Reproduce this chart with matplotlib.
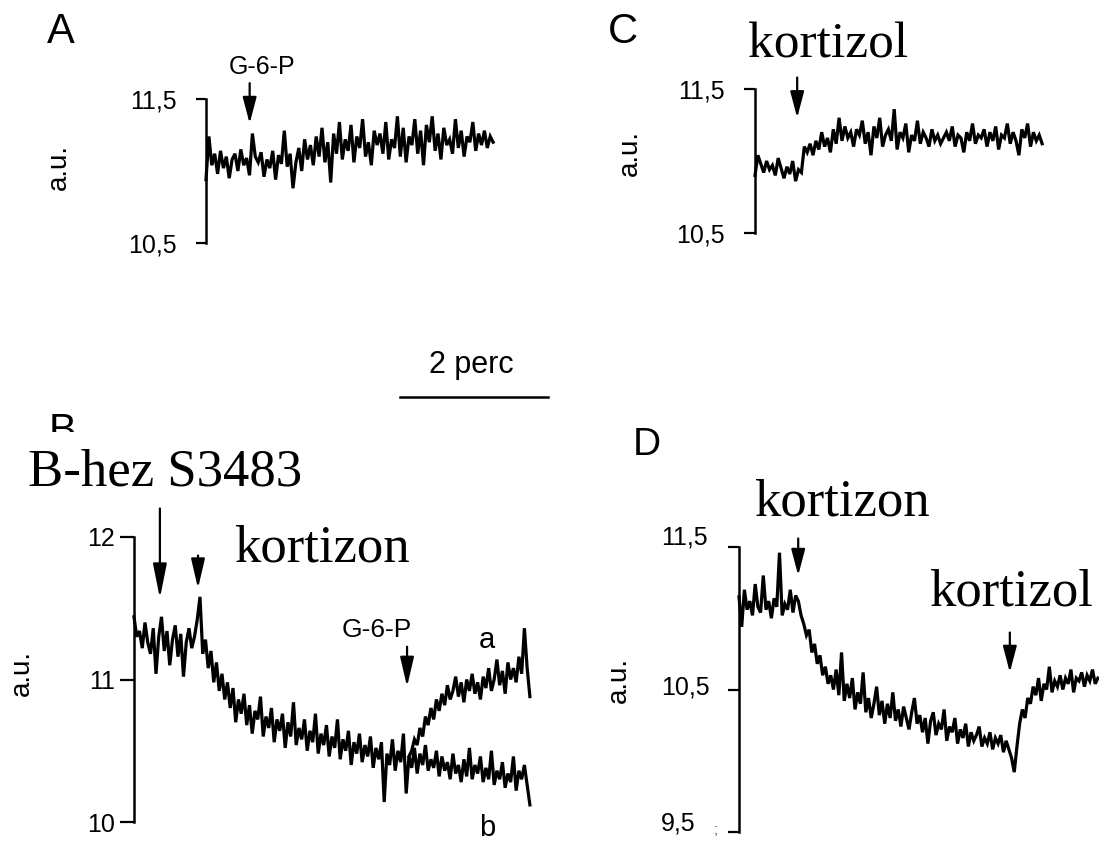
import matplotlib.pyplot as plt
import numpy as np
from matplotlib.lines import Line2D
from matplotlib.patches import Rectangle

plt.rcParams['font.family'] = ['Liberation Sans', 'DejaVu Sans']

# recordings (a.u.), one sample list per panel
trace_A = [10.94, 11.24, 11.04, 11.12, 10.98, 11.14, 11.02, 11.10, 10.95, 11.08,
           11.12, 11.00, 11.15, 11.04, 11.09, 10.97, 11.26, 11.10, 11.06, 11.13,
           10.96, 11.08, 11.02, 11.14, 10.94, 11.11, 11.05, 11.28, 11.03, 11.12,
           10.88, 11.06, 11.16, 11.00, 11.22, 11.08, 11.18, 11.04, 11.24, 11.10,
           11.30, 11.06, 11.20, 10.92, 11.26, 11.12, 11.34, 11.08, 11.22, 11.14,
           11.32, 11.06, 11.24, 11.16, 11.36, 11.10, 11.20, 11.04, 11.28, 11.18,
           11.26, 11.12, 11.34, 11.08, 11.22, 11.16, 11.38, 11.10, 11.30, 11.06,
           11.24, 11.18, 11.36, 11.12, 11.28, 11.04, 11.32, 11.20, 11.38, 11.14,
           11.26, 11.08, 11.30, 11.18, 11.22, 11.12, 11.36, 11.16, 11.28, 11.10,
           11.24, 11.20, 11.34, 11.14, 11.26, 11.18, 11.28, 11.16, 11.24, 11.20]

trace_C = [10.90, 11.04, 10.98, 10.92, 11.00, 10.94, 10.97, 10.90, 11.02, 10.95,
           10.88, 10.96, 10.91, 11.00, 10.86, 10.94, 10.92, 11.10, 11.06, 11.12,
           11.04, 11.14, 11.08, 11.20, 11.10, 11.16, 11.06, 11.22, 11.12, 11.30,
           11.14, 11.24, 11.16, 11.20, 11.10, 11.22, 11.18, 11.28, 11.12, 11.20,
           11.04, 11.24, 11.16, 11.30, 11.10, 11.18, 11.22, 11.14, 11.36, 11.08,
           11.20, 11.16, 11.26, 11.06, 11.18, 11.14, 11.28, 11.12, 11.20, 11.16,
           11.10, 11.22, 11.14, 11.18, 11.12, 11.16, 11.20, 11.14, 11.24, 11.10,
           11.18, 11.16, 11.06, 11.20, 11.14, 11.26, 11.12, 11.18, 11.16, 11.22,
           11.10, 11.20, 11.14, 11.24, 11.08, 11.18, 11.16, 11.26, 11.12, 11.20,
           11.14, 11.04, 11.22, 11.16, 11.26, 11.10, 11.20, 11.14, 11.18, 11.12]

trace_B = [11.44, 11.30, 11.34, 11.22, 11.40, 11.26, 11.18, 11.36, 11.04, 11.30,
           11.44, 11.20, 11.34, 11.10, 11.28, 11.38, 11.16, 11.32, 11.02, 11.26,
           11.36, 11.22, 11.30, 11.42, 11.58, 11.18, 11.28, 11.08, 11.20, 10.98,
           11.12, 10.92, 11.04, 10.86, 10.98, 10.80, 10.94, 10.70, 10.86, 10.76,
           10.90, 10.68, 10.82, 10.62, 10.78, 10.72, 10.88, 10.60, 10.74, 10.66,
           10.80, 10.56, 10.72, 10.64, 10.76, 10.52, 10.70, 10.60, 10.84, 10.54,
           10.66, 10.58, 10.72, 10.50, 10.64, 10.56, 10.76, 10.48, 10.62, 10.54,
           10.68, 10.46, 10.60, 10.52, 10.72, 10.44, 10.58, 10.50, 10.64, 10.40,
           10.56, 10.48, 10.62, 10.42, 10.54, 10.46, 10.60, 10.38, 10.52, 10.44,
           10.56, 10.14, 10.48, 10.40, 10.58, 10.36, 10.50, 10.42, 10.62, 10.20,
           10.46, 10.38, 10.52, 10.34, 10.48, 10.40, 10.54, 10.36, 10.44, 10.38,
           10.50, 10.32, 10.46, 10.36, 10.42, 10.30, 10.48, 10.34, 10.40, 10.28,
           10.44, 10.32, 10.52, 10.30, 10.40, 10.34, 10.46, 10.28, 10.38, 10.30,
           10.50, 10.26, 10.36, 10.30, 10.42, 10.24, 10.34, 10.28, 10.46, 10.22,
           10.36, 10.30, 10.40, 10.26, 10.12]
B_a_start = 100   # sample where trace "a" branches off (G-6-P added)
trace_B_a = [10.46, 10.50, 10.58, 10.54, 10.66, 10.60, 10.74, 10.68, 10.80, 10.72,
             10.86, 10.78, 10.90, 10.82, 10.96, 10.86, 10.92, 11.02, 10.88, 10.98,
             10.84, 11.00, 10.92, 11.04, 10.90, 10.98, 10.86, 11.02, 10.94, 11.08,
             10.92, 11.00, 11.14, 10.96, 11.06, 10.90, 11.12, 11.00, 11.08, 10.98,
             11.16, 11.04, 11.36, 11.08, 10.88]

trace_D = [11.15, 10.94, 11.20, 11.06, 11.12, 11.02, 11.24, 11.08, 11.04, 11.30,
           11.06, 11.12, 11.00, 11.14, 11.08, 11.46, 11.02, 11.10, 11.06, 11.20,
           11.04, 11.16, 11.12, 11.02, 10.96, 10.88, 10.92, 10.76, 10.82, 10.68,
           10.74, 10.60, 10.66, 10.54, 10.60, 10.50, 10.64, 10.46, 10.76, 10.42,
           10.54, 10.44, 10.58, 10.36, 10.48, 10.40, 10.62, 10.34, 10.44, 10.30,
           10.40, 10.52, 10.32, 10.42, 10.26, 10.40, 10.30, 10.48, 10.28, 10.36,
           10.24, 10.38, 10.30, 10.22, 10.34, 10.44, 10.26, 10.32, 10.20, 10.30,
           10.12, 10.28, 10.34, 10.18, 10.26, 10.22, 10.36, 10.14, 10.24, 10.20,
           10.30, 10.12, 10.22, 10.16, 10.26, 10.10, 10.20, 10.14, 10.18, 10.24,
           10.10, 10.16, 10.12, 10.20, 10.08, 10.16, 10.12, 10.18, 10.06, 10.14,
           10.08, 10.02, 9.92, 10.10, 10.26, 10.36, 10.30, 10.44, 10.40, 10.52,
           10.46, 10.58, 10.42, 10.54, 10.50, 10.66, 10.48, 10.56, 10.52, 10.60,
           10.50, 10.58, 10.54, 10.64, 10.48, 10.58, 10.56, 10.62, 10.52, 10.60,
           10.56, 10.64, 10.54, 10.58]

# recording length (min) of each trace
dur_A, dur_C, dur_B, dur_D = 3.88, 3.88, 5.35, 4.85

W, H = 1099, 841
PX_PER_MIN = 74.0

fig = plt.figure(figsize=(W / 100, H / 100), dpi=100)


def fig_rect(left, top, right, bottom):
    return [left / W, 1 - bottom / H, (right - left) / W, (bottom - top) / H]


def ftext(x, y, s, **kw):
    return fig.text(x / W, 1 - y / H, s, **kw)


def make_panel(left, top, bottom, xmax, ylim, ticks, labels, ticklen, pad):
    right = left + xmax * PX_PER_MIN
    ax = fig.add_axes(fig_rect(left, top, right, bottom))
    ax.set_xlim(0, xmax)
    ax.set_ylim(*ylim)
    for s in ['top', 'right', 'bottom']:
        ax.spines[s].set_visible(False)
    ax.spines['left'].set_linewidth(1.8)
    ax.set_xticks([])
    ax.set_yticks(ticks)
    ax.set_yticklabels(labels, fontsize=18)
    ax.tick_params(axis='y', direction='out', length=ticklen, width=1.6, pad=pad)
    ax.patch.set_alpha(0)
    return ax


def arrow(ax, t, tip, tail, hl=1.6):
    ax.annotate('', xy=(t, tip), xytext=(t, tail), annotation_clip=False,
                arrowprops=dict(arrowstyle='-|>,head_length=%.2f,head_width=0.42' % hl,
                                mutation_scale=10, lw=1.6, color='black',
                                shrinkA=0, shrinkB=0))


def trace(ax, vals, dur, start=0, n_total=None):
    n = n_total if n_total else len(vals)
    t = np.arange(start, start + len(vals)) * dur / (n - 1)
    ax.plot(t, vals, color='black', lw=2.3, clip_on=False, solid_joinstyle='miter')


# A
axA = make_panel(206, 99, 243, 4.0, (10.5, 11.5), [10.5, 11.5], ['10,5', '11,5'], 7, 14)
trace(axA, trace_A, dur_A)
arrow(axA, 0.59, 11.33, 11.61)
ftext(61, 32, 'A', fontsize=30, ha='center', va='center')
ftext(262, 67, 'G-6-P', fontsize=18, ha='center', va='center')
ftext(59, 167, 'a.u.', fontsize=20, rotation=90, ha='center', va='center')

# C
axC = make_panel(755, 89, 233, 4.0, (10.5, 11.5), [10.5, 11.5], ['10,5', '11,5'], 8, 14)
trace(axC, trace_C, dur_C)
arrow(axC, 0.57, 11.30, 11.58)
ftext(623, 32, 'C', fontsize=30, ha='center', va='center')
ftext(828, 57, 'kortizol', fontsize=37, family='Liberation Serif', ha='center', va='baseline')
ftext(630, 153, 'a.u.', fontsize=20, rotation=90, ha='center', va='center')

# B
axB = make_panel(134, 537, 822, 5.4, (10, 12), [10, 11, 12], ['10', '11', '12'], 10, 4)
trace(axB, trace_B, dur_B)
trace(axB, trace_B_a, dur_B, start=B_a_start, n_total=len(trace_B))
arrow(axB, 0.35, 11.57, 12.20, hl=2.1)
arrow(axB, 0.865, 11.64, 11.87, hl=1.8)
arrow(axB, 3.69, 10.95, 11.23, hl=1.8)
ftext(62, 432, 'B', fontsize=30, ha='center', va='center')
fig.add_artist(Rectangle((30 / W, 1 - 470 / H), 80 / W, 38 / H, transform=fig.transFigure,
                         facecolor='white', edgecolor='none', zorder=4))
ftext(165, 486, 'B-hez S3483', fontsize=38, family='Liberation Serif', ha='center',
      va='baseline', zorder=5)
ftext(322, 562, 'kortizon', fontsize=38, family='Liberation Serif', ha='center', va='baseline')
ftext(377, 630, 'G-6-P', fontsize=19, ha='center', va='center')
ftext(487, 640, 'a', fontsize=21, ha='center', va='center')
ftext(487, 828, 'b', fontsize=21, ha='center', va='center')
ftext(22, 673, 'a.u.', fontsize=20, rotation=90, ha='center', va='center')

# D (tick labels are left-aligned in the original, placed by hand)
axD = make_panel(739, 547, 832, 360 / PX_PER_MIN, (9.5, 11.5), [9.5, 10.5, 11.5],
                 ['', '', ''], 8, 4)
for lab, ypx in zip(['11,5', '10,5', '9,5'], [537, 688, 824]):
    ftext(661, ypx, lab, fontsize=18, ha='left', va='center')
trace(axD, trace_D, dur_D)
arrow(axD, 0.80, 11.30, 11.56)
arrow(axD, 3.66, 10.62, 10.90)
ftext(647, 445, 'D', fontsize=28, ha='center', va='center')
ftext(842, 515, 'kortizon', fontsize=38, family='Liberation Serif', ha='center', va='baseline')
ftext(1011, 605, 'kortizol', fontsize=38, family='Liberation Serif', ha='center', va='baseline')
ftext(619, 680, 'a.u.', fontsize=20, rotation=90, ha='center', va='center')
ftext(716, 830, ';', fontsize=11, ha='center', va='center', color='#555555')

# time scale bar
bar_y = 1 - 397 / H
fig.add_artist(Line2D([400 / W, (400 + 2 * PX_PER_MIN) / W], [bar_y, bar_y],
                      transform=fig.transFigure, color='black', lw=1.8))
ftext(471, 365, '2 perc', fontsize=22, ha='center', va='center')

fig.savefig('out.png', dpi=100)
